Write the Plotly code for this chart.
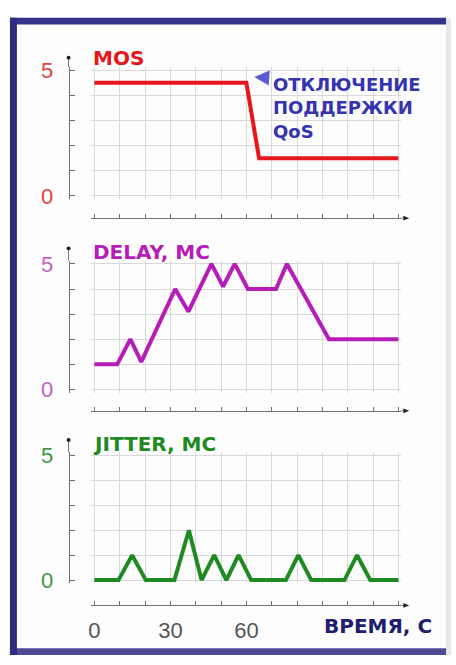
import plotly.graph_objects as go

# ---- data -------------------------------------------------------------
time_ticks = [0, 10, 20, 30, 40, 50, 60, 70, 80, 90, 100, 110, 120]
time_labels = ["0", "", "", "30", "", "", "60", "", "", "", "", "", ""]
value_ticks = [0, 1, 2, 3, 4, 5]
value_labels = ["0", "", "", "", "", "5"]

mos_t = [0, 60, 65, 120]
mos_v = [4.5, 4.5, 1.5, 1.5]

delay_t = [0, 9, 14.2, 18.5, 31.9, 37.1, 46.2, 50.8, 55.4, 60.6, 71.7, 76.0, 92.6, 120]
delay_v = [1, 1, 2, 1.1, 4, 3.1, 5, 4.1, 5, 4, 4, 5, 2, 2]

jitter_t = [0, 9.5, 14.9, 20.3, 31.6, 37.3, 42.3, 47.3, 52.1, 56.9, 61.9,
            75.6, 80.5, 85.6, 98.7, 103.7, 108.9, 120]
jitter_v = [0, 0, 1, 0, 0, 2, 0, 1, 0, 1, 0, 0, 1, 0, 0, 1, 0, 0]

# ---- page geometry (pixels) -------------------------------------------
W, H = 456, 665


def fx(p):
    return p / W


def fy(p):
    return 1 - p / H


GRID_L, GRID_R = 92, 398
AXIS_X = 66
X_PAD = 1.2            # seconds of slack so thick lines are not clipped
Y_PAD = 0.13           # value slack so thick lines are not clipped

panels = [
    dict(name="MOS", t=mos_t, v=mos_v, top=63, bottom=192, axis_y=215,
         line="#e5171d", tick="#e64040", arrow_top=50),
    dict(name="DELAY, MC", t=delay_t, v=delay_v, top=262, bottom=391, axis_y=413,
         line="#b61cb8", tick="#c060c4", arrow_top=246),
    dict(name="JITTER, MC", t=jitter_t, v=jitter_v, top=459, bottom=587, axis_y=613,
         line="#1f8a22", tick="#3c9a40", arrow_top=443),
]

x_unit = (GRID_R - GRID_L) / 120.0
x_dom = [fx(GRID_L - X_PAD * x_unit), fx(GRID_R + X_PAD * x_unit)]
x_range = [-X_PAD, 120 + X_PAD]
y_range = [-Y_PAD, 5 + Y_PAD]

AX_GRAY = "#707070"
GRID_GRAY = "#d8d8d8"

fig = go.Figure()
layout = dict(
    width=W, height=H,
    margin=dict(l=0, r=0, t=0, b=0),
    paper_bgcolor="white",
    plot_bgcolor="rgba(0,0,0,0)",
    showlegend=False,
)
shapes = []
annotations = []

# frame around the whole chart: dark left/top/bottom edges, pale right edge
shapes += [
    dict(type="rect", xref="paper", yref="paper", x0=fx(7), x1=fx(451), y0=fy(664), y1=fy(8),
         fillcolor="#fdfdfd", line=dict(width=0), layer="below"),
    dict(type="rect", xref="paper", yref="paper", x0=fx(446), x1=fx(451), y0=fy(664), y1=fy(10),
         fillcolor="#e6e6ee", line=dict(width=0), layer="below"),
    dict(type="rect", xref="paper", yref="paper", x0=fx(7), x1=fx(446), y0=fy(664), y1=fy(657),
         fillcolor="#4c4c96", line=dict(width=0), layer="below"),
    dict(type="rect", xref="paper", yref="paper", x0=fx(7), x1=fx(446), y0=fy(16), y1=fy(9),
         fillcolor="#34348a", line=dict(width=0), layer="below"),
    dict(type="rect", xref="paper", yref="paper", x0=fx(7), x1=fx(14), y0=fy(664), y1=fy(9),
         fillcolor="#2c2c80", line=dict(width=0), layer="below"),
]

for i, p in enumerate(panels):
    n = i + 1
    sfx = "" if n == 1 else str(n)
    y_unit = (p["bottom"] - p["top"]) / 5.0
    y_dom = [fy(p["bottom"] + Y_PAD * y_unit), fy(p["top"] - Y_PAD * y_unit)]

    # grid axes carrying the data
    layout["xaxis" + sfx] = dict(domain=x_dom, range=x_range, anchor="y" + sfx,
                                 tickvals=time_ticks, showticklabels=False, ticks="",
                                 showgrid=True, gridcolor=GRID_GRAY, gridwidth=1,
                                 zeroline=False, showline=False, fixedrange=True)
    layout["yaxis" + sfx] = dict(domain=y_dom, range=y_range, anchor="x" + sfx,
                                 tickvals=value_ticks, showticklabels=False, ticks="",
                                 showgrid=True, gridcolor=GRID_GRAY, gridwidth=1,
                                 zeroline=False, showline=False, fixedrange=True)

    # detached value and time axes drawn beside the grid
    xo, yo = 3 + 2 * n, 4 + 2 * n
    layout[f"xaxis{xo}"] = dict(overlaying="x" + sfx, anchor="free", position=fy(p["axis_y"]),
                                side="bottom", range=x_range, tickvals=time_ticks,
                                ticktext=time_labels if n == 3 else [""] * len(time_ticks),
                                ticks="inside", ticklen=4, tickcolor=AX_GRAY, tickwidth=1,
                                showline=True, linecolor=AX_GRAY, linewidth=1,
                                showgrid=False, zeroline=False, ticklabelstandoff=5,
                                tickfont=dict(family="Liberation Sans", size=22, color="#555555"))
    layout[f"yaxis{yo}"] = dict(overlaying="y" + sfx, anchor="free", position=fx(AXIS_X),
                                side="left", range=y_range, tickvals=value_ticks,
                                ticktext=value_labels,
                                ticks="inside", ticklen=5, tickcolor=AX_GRAY, tickwidth=1,
                                showline=True, linecolor=AX_GRAY, linewidth=1,
                                showgrid=False, zeroline=False, ticklabelstandoff=11,
                                tickfont=dict(family="Liberation Sans", size=22, color=p["tick"]))
    fig.add_trace(go.Scatter(x=[], y=[], xaxis=f"x{xo}", yaxis=f"y{yo}", hoverinfo="skip"))

    # data line
    fig.add_trace(go.Scatter(x=p["t"], y=p["v"], mode="lines", xaxis="x" + sfx, yaxis="y" + sfx,
                             line=dict(color=p["line"], width=4, shape="linear"),
                             hoverinfo="skip"))

    # arrow tips of the detached axes
    top_y = p["top"] - Y_PAD * y_unit
    shapes.append(dict(type="line", xref="paper", yref="paper",
                       x0=fx(AXIS_X), x1=fx(AXIS_X), y0=fy(top_y), y1=fy(p["arrow_top"]),
                       line=dict(color=AX_GRAY, width=1)))
    shapes.append(dict(type="circle", xref="paper", yref="paper",
                       x0=fx(AXIS_X - 2), x1=fx(AXIS_X + 2),
                       y0=fy(p["arrow_top"] + 2), y1=fy(p["arrow_top"] - 2),
                       fillcolor="#222222", line=dict(width=0)))
    right_x = GRID_R + X_PAD * x_unit
    shapes.append(dict(type="line", xref="paper", yref="paper",
                       x0=fx(right_x), x1=fx(405), y0=fy(p["axis_y"]), y1=fy(p["axis_y"]),
                       line=dict(color=AX_GRAY, width=1)))
    shapes.append(dict(type="path", xref="paper", yref="paper",
                       path=f"M {fx(403)},{fy(p['axis_y'] - 2.5)} L {fx(409)},{fy(p['axis_y'])} "
                            f"L {fx(403)},{fy(p['axis_y'] + 2.5)} Z",
                       fillcolor="#222222", line=dict(width=0)))

    # panel title
    annotations.append(dict(xref="paper", yref="paper", x=fx(GRID_L - 3), y=fy(p["top"] + 2),
                            xanchor="left", yanchor="bottom", showarrow=False,
                            text=f"<b>{p['name']}</b>",
                            font=dict(family="DejaVu Sans", size=20, color=p["line"])))

# QoS switch-off note with its arrow
annotations.append(dict(xref="x", yref="y", x=63.1, y=4.73, ax=15, ay=1,
                        showarrow=True, text="", standoff=0,
                        arrowhead=2, arrowsize=1.0, arrowwidth=3, arrowcolor="#5c5cd4"))
annotations.append(dict(xref="paper", yref="paper", x=fx(270), y=fy(65),
                        xanchor="left", yanchor="top", align="left", showarrow=False,
                        text="<b>ОТКЛЮЧЕНИЕ<br>ПОДДЕРЖКИ<br>QoS</b>",
                        font=dict(family="DejaVu Sans", size=18, color="#3434b0")))

# time axis caption
annotations.append(dict(xref="paper", yref="paper", x=fx(434), y=fy(634),
                        xanchor="right", yanchor="middle", showarrow=False,
                        text="<b>ВРЕМЯ, С</b>",
                        font=dict(family="DejaVu Sans", size=20, color="#1e1e6e")))

layout["shapes"] = shapes
layout["annotations"] = annotations
fig.update_layout(**layout)
fig.write_html("out.html")
